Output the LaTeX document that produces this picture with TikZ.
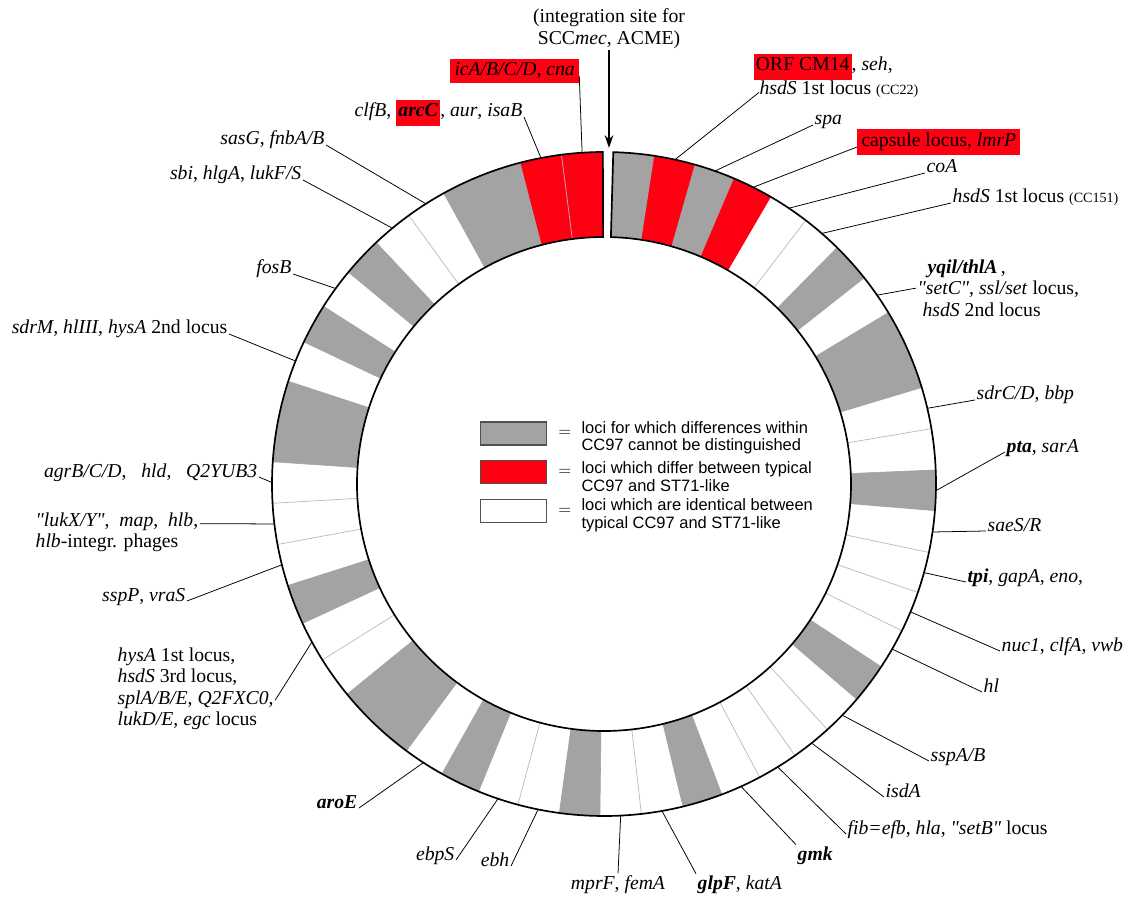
\documentclass[tikz,border=0pt]{standalone}
\usepackage{fontspec}
\setmainfont{Liberation Serif}
\newfontfamily\legfont{Liberation Sans}
\usetikzlibrary{arrows.meta}
\usetikzlibrary{positioning}

\definecolor{lg}{RGB}{163,163,163}
\definecolor{lr}{RGB}{255,0,18}
\definecolor{lw}{RGB}{255,255,255}
\definecolor{locline}{RGB}{185,185,185}
\definecolor{boxline}{RGB}{80,80,80}

\newcommand{\redbg}[1]{{\setlength{\fboxsep}{1.6pt}\colorbox{lr}{\strut#1}}}
\newcommand{\gn}[1]{\textbf{\textit{#1}}}
\newcommand{\qt}[1]{\textquotedbl#1\textquotedbl}

\tikzset{
    lbl/.style={inner sep=1pt, font=\fontsize{14}{15.3}\selectfont},
    redlbl/.style={lbl, fill=lr, inner xsep=3pt, inner ysep=3pt},
    lead/.style={line width=0.55pt},
    legbox/.style={draw=boxline, line width=0.8pt, inner sep=0pt, minimum width=47.5pt, minimum height=16.3pt},
    legeq/.style={inner sep=0pt, font=\fontsize{13}{13}\selectfont},
    legtxt/.style={inner sep=0pt, align=left, font=\legfont\fontsize{11.7}{12.4}\selectfont},
}

\begin{document}
\begin{tikzpicture}[>={Stealth[length=9pt,width=6pt]}, x=0.025cm, y=0.025cm]

            \useasboundingbox (-604,484) rectangle (524,-436);

            % Ring of loci (50 slots, gap at the top)
            \foreach \c [count=\k from 0] in {lg,lr,lg,lr,lw,lw,lg,lw,lg,lg,
                                                lw,lw,lg,lw,lw,lw,lw,lg,lw,lw,
                                                lw,lw,lg,lw,lw,lg,lw,lw,lg,lw,
                                                lg,lg,lw,lw,lg,lw,lw,lw,lg,lg,
                                                lw,lg,lw,lg,lw,lw,lg,lg,lr,lr} {
                \pgfmathsetmacro{\angA}{88.4-7.164*\k}
                \pgfmathsetmacro{\angB}{\angA-7.164}
                \filldraw[fill=\c, draw=\c, line width=0.4pt] (\angA:332) arc[start angle=\angA, end angle=\angB, radius=332]
                    -- (\angB:247) arc[start angle=\angB, end angle=\angA, radius=247] -- cycle;
            }
            \foreach \k in {5,11,14,15,16,19,20,21,24,27,33,36,37,45,49}
                \draw[locline, line width=0.5pt] ({88.4-7.164*\k}:247) -- ({88.4-7.164*\k}:332);
            \draw[line width=1.2pt] (88.4:332) arc[start angle=88.4, end angle=-269.8, radius=332]
                -- (-269.8:247) arc[start angle=-269.8, end angle=88.4, radius=247] -- cycle;
            \foreach \k in {1,...,49}
                \coordinate (p\k) at ({88.4-7.164*(\k+0.5)}:332);

            % Integration site
            \node[lbl, align=center, anchor=south] (site) at (5,434) {(integration site for\\SCC\textit{mec}, ACME)};
            \coordinate (gap) at (5,336);
            \draw[->, line width=1.2pt] (site) -- (gap);

            % Legend
            \node[legbox, fill=lg] (gbox) at (-90.5,50.5) {};
            \node[legbox, fill=lr, below=10.5pt of gbox] (rbox) {};
            \node[legbox, fill=lw, below=10.5pt of rbox] (wbox) {};
            \node[legeq, right=7.5pt of gbox] (eq1) {$=$};
            \node[legeq, right=7.5pt of rbox] (eq2) {$=$};
            \node[legeq, right=7.5pt of wbox] (eq3) {$=$};
            \node[legtxt, right=7pt of eq1, yshift=-3pt] (gtxt) {loci for which differences within\\CC97 cannot be distinguished};
            \node[legtxt, right=7pt of eq2, yshift=-3pt] (rtxt) {loci which differ between typical\\CC97 and ST71-like};
            \node[legtxt, right=7pt of eq3, yshift=-3pt] (wtxt) {loci which are identical between\\typical CC97 and ST71-like};

            % Labels, upper left
            \node[redlbl, anchor=base west] (ica) at (-154,408) {\textit{icA/B/C/D, cna}};
            \node[lbl, anchor=base east] (clfb) at (-80,367) {\textit{clfB}, \redbg{\gn{arcC}}, \textit{aur}, \textit{isaB}};
            \node[lbl, anchor=base east] (sasg) at (-278,339) {\textit{sasG}, \textit{fnbA/B}};
            \node[lbl, anchor=base east] (sbi) at (-301,304) {\textit{sbi}, \textit{hlgA}, \textit{lukF/S}};
            \node[lbl, anchor=base east] (fosb) at (-311,210) {\textit{fosB}};
            \node[lbl, anchor=base east] (sdrm) at (-375,150) {\textit{sdrM},\ \textit{hlIII},\ \textit{hysA} 2nd locus};

            % Labels, left
            \node[lbl, anchor=base east] (agrb) at (-345,7) {\textit{agrB/C/D},\hspace{0.5em} \textit{hld},\hspace{0.5em} \textit{Q2YUB3}};
            \node[lbl, anchor=north west, align=left] (lukx) at (-570,-27) {\textit{\qt{lukX/Y}},\ \ \textit{map},\ \ \textit{hlb},\\\textit{hlb}-integr. phages};
            \node[lbl, anchor=base east] (sspp) at (-417,-117) {\textit{sspP}, \textit{vraS}};
            \node[lbl, anchor=north west, align=left] (hysa) at (-488,-162) {\textit{hysA} 1st locus,\\\textit{hsdS} 3rd locus,\\\textit{splA/B/E}, \textit{Q2FXC0},\\\textit{lukD/E}, \textit{egc} locus};
            \node[lbl, anchor=base east] (aroe) at (-245,-324) {\gn{aroE}};

            % Labels, bottom
            \node[lbl, anchor=base east] (ebps) at (-148,-376) {\textit{ebpS}};
            \node[lbl, anchor=base east] (ebh) at (-93,-382) {\textit{ebh}};
            \node[lbl, anchor=base] (mprf) at (14,-405) {\textit{mprF}, \textit{femA}};
            \node[lbl, anchor=base west] (glpf) at (92,-405) {\gn{glpF}, \textit{katA}};
            \node[lbl, anchor=base west] (gmk) at (192,-376) {\gn{gmk}};

            % Labels, right
            \node[lbl, anchor=base west] (fib) at (242,-350) {\textit{fib=efb}, \textit{hla}, \textit{\qt{setB}} locus};
            \node[lbl, anchor=base west] (isda) at (280,-313) {\textit{isdA}};
            \node[lbl, anchor=base west] (sspa) at (325,-277) {\textit{sspA/B}};
            \node[lbl, anchor=base west] (hl) at (378,-208) {\textit{hl}};
            \node[lbl, anchor=base west] (nuc) at (396,-167) {\textit{nuc1}, \textit{clfA}, \textit{vwb}};
            \node[lbl, anchor=base west] (tpi) at (362,-98) {\gn{tpi}, \textit{gapA}, \textit{eno},};
            \node[lbl, anchor=base west] (saes) at (382,-47) {\textit{saeS/R}};
            \node[lbl, anchor=base west] (pta) at (401,32) {\gn{pta}, \textit{sarA}};
            \node[lbl, anchor=base west] (sdrc) at (371,84) {\textit{sdrC/D}, \textit{bbp}};
            \node[lbl, anchor=north west, align=left] (yqil) at (312,226) {\hspace*{0.5em}\gn{yqil/thlA}\,,\\\textit{\qt{setC}}, \textit{ssl/set} locus,\\\hspace*{0.25em}\textit{hsdS} 2nd locus};
            \node[lbl, anchor=base west] (hsds) at (347,281) {\textit{hsdS} 1st locus {\fontsize{10}{12}\selectfont(CC151)}};
            \node[lbl, anchor=base west] (coa) at (321,311) {\textit{coA}};
            \node[redlbl, anchor=base west] (caps) at (253,337) {capsule locus, \textit{lmrP}};
            \node[lbl, anchor=base west] (spa) at (209,359) {\textit{spa}};
            \node[lbl, anchor=north west, align=left] (orf) at (148,432) {\redbg{ORF CM14}, \textit{seh},\\\hspace*{0.3em}\textit{hsdS} 1st locus {\fontsize{10}{12}\selectfont(CC22)}};

            % Leader lines
            \foreach \p/\n in {49/ica.base east, 48/clfb.base east, 45/sasg.base east, 44/sbi.base east,
                               42/fosb.base east, 40/sdrm.base east, 37/agrb.base east, 35/sspp.base east,
                               29/aroe.base east, 27/ebps.base east, 26/ebh.base east,
                               24/mprf.north, 23/glpf.north west, 21/gmk.north west, 20/fib.base west,
                               19/isda.base west, 18/sspa.base west, 16/hl.base west, 15/nuc.base west,
                               14/tpi.base west, 13/saes.base west, 12/pta.base west, 10/sdrc.base west,
                               7/yqil.west, 5/hsds.base west, 4/coa.base west, 3/caps.base west, 2/spa.base west}
                \draw[lead] (p\p) -- (\n);
            \draw[lead] (p36) -- ([yshift=-9pt]lukx.north east);
            \draw[lead] (p33) -- ([yshift=-8pt]hysa.east);
            \draw[lead] (p1) -- ([shift={(5pt,5pt)}]orf.south west);

\end{tikzpicture}
\end{document}
